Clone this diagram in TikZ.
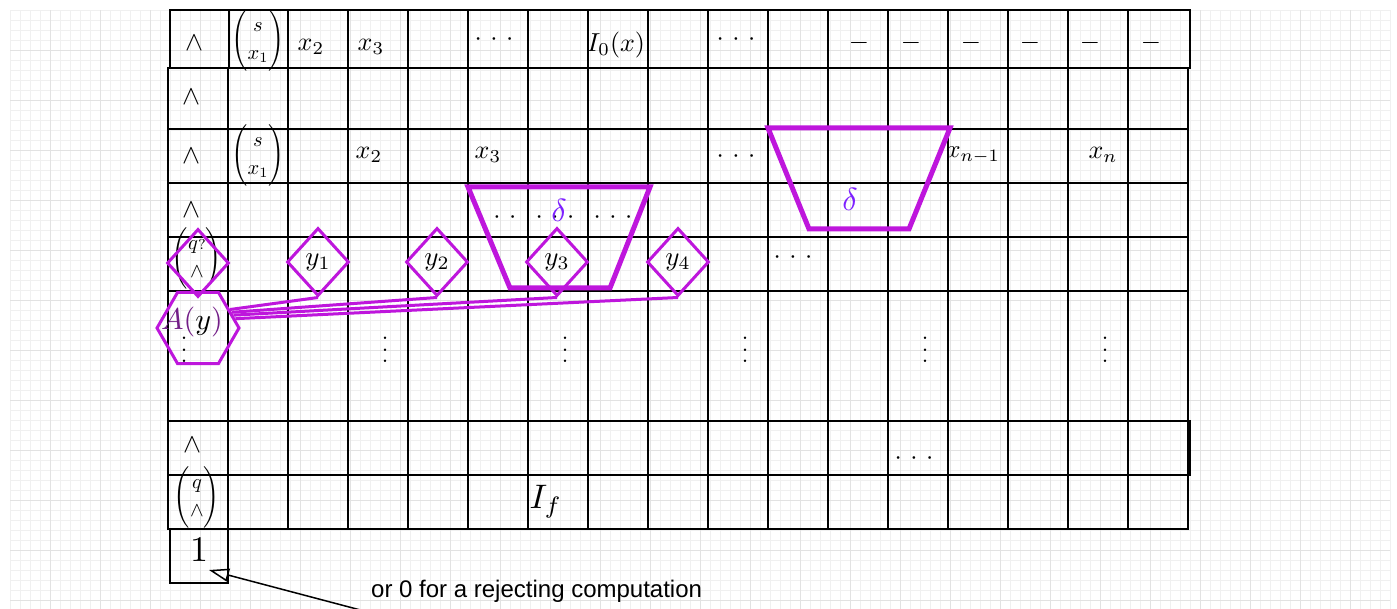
\documentclass[tikz,border=0pt]{standalone}
\usepackage{amsmath}
\usepackage{graphicx}
\usepackage{fontspec}
\newfontfamily\notefont{Liberation Sans}
\usetikzlibrary{shapes.geometric,arrows.meta,calc}
\definecolor{pur}{RGB}{190,22,220}
\definecolor{vio}{RGB}{125,32,255}
\definecolor{dpur}{RGB}{115,30,135}
\definecolor{bgminor}{RGB}{240,240,240}
\definecolor{bgmajor}{RGB}{226,226,226}
\newcommand\myvdots{\vbox{\baselineskip=11.5pt\lineskiplimit=0pt\hbox{.}\hbox{.}\hbox{.}}}
\newcommand\mycdots{\scalebox{2.6}{$\cdotp\mkern3mu\cdotp\mkern3mu\cdotp$}}
\newcommand\cbig[1]{\scalebox{2.6}{$#1$}}
\newcommand\wbig{\scalebox{2.7}{$\wedge$}}
\newcommand\mbig[1]{\scalebox{2.05}{$\begin{pmatrix}#1\end{pmatrix}$}}
\begin{document}
\begin{tikzpicture}[x=1pt,y=-1pt,
  gline/.style={line width=1.8pt, black},
  thkline/.style={line width=2.8pt, black},
  cellm/.style={inner sep=0pt, font=\fontsize{10}{12}\selectfont},
  matx/.style={inner sep=0pt, font=\fontsize{10}{13.5}\selectfont},
  diam/.style={diamond, draw=pur, line width=3pt, minimum width=62pt, minimum height=68pt, inner sep=0pt},
  trapz/.style={draw=pur, line width=5pt, line join=miter},
  linkl/.style={draw=pur, line width=3pt},
  deltal/.style={inner sep=0pt, text=vio},
  vdotsn/.style={inner sep=0pt, font=\fontsize{30}{30}\selectfont},
]
\useasboundingbox (0,0) rectangle (1397,609);
\fill[white] (0,0) rectangle (1397,609);
\draw[bgminor, line width=0.5pt] (10,10) grid[step=10pt] (1390,609);
\draw[bgmajor, line width=0.6pt] (10,10) grid[step=50pt] (1390,609);

% top row
\draw[gline] (170,10) rectangle (1190,68);
\foreach \x in {229,288,348,408,468,528,588,648,708,768,828,888,948,1008,1068,1128}
  \draw[gline] (\x,10) -- (\x,68);
% main block
\draw[gline] (168,68) rectangle (1188,529);
\foreach \y in {129,183,237,291,421,475}
  \draw[gline] (168,\y) -- (1188,\y);
\draw[gline] (1188,421) -- (1190,421) -- (1190,475) -- (1188,475);
\foreach \x in {228,288,348,408,468,528,588,648,708,768,888,948,1068,1128}
  \draw[gline] (\x,68) -- (\x,529);
\draw[thkline] (168,68) -- (168,529);
\draw[thkline] (828,68) -- (828,529);
\draw[thkline] (1008,68) -- (1008,529);
\draw[thkline] (168,68) -- (1190,68);
% answer box
\draw[gline] (170,529) rectangle (228,583);

% row 0
\node[cellm] (w0) at (194,43) {\wbig};
\node[matx] (m0) at (258,40) {\mbig{s\\ x_1}};
\node[cellm] (r0x2) at (311,47) {\cbig{x_2}};
\node[cellm] (r0x3) at (371,47) {\cbig{x_3}};
\node[cellm] (r0c1) at (494,40) {\mycdots};
\node[cellm] (r0i) at (616,45) {\cbig{I_0(x)}};
\node[cellm] (r0c2) at (736,40) {\mycdots};
\foreach \x/\n in {859/a,911/b,971/c,1030/d,1090/e,1151/f}
  \node[cellm] (dash\n) at (\x,43) {\cbig{-}};

% row 1
\node[cellm] (w1) at (191,97) {\wbig};
% row 2
\node[cellm] (w2) at (191,156) {\wbig};
\node[matx] (m2) at (258,155) {\mbig{s\\ x_1}};
\node[cellm] (r2x2) at (369,155) {\cbig{x_2}};
\node[cellm] (r2x3) at (488,155) {\cbig{x_3}};
\node[cellm] (r2c) at (736,157) {\mycdots};
\node[cellm] (r2xn1) at (973,155) {\scalebox{2.5}{$x_{n-1}$}};
\node[cellm] (r2xn) at (1103,155) {\cbig{x_n}};
% row 3
\node[cellm] (w3) at (191,210) {\wbig};
\node[cellm] (r3c1) at (497,218) {\mycdots};
\node[cellm] (r3c2) at (555,218) {\mycdots};
\node[cellm] (r3c3) at (613,218) {\mycdots};

% transition boxes
\draw[trapz] (468,187) -- (650,187) -- (610,288) -- (510,288) -- cycle;
\draw[trapz] (768,128) -- (950,128) -- (909,229) -- (809,229) -- cycle;
\node[deltal] (delta1) at (559,210) {\scalebox{3.2}{$\delta$}};
\node[deltal] (delta2) at (850,199) {\scalebox{3.2}{$\delta$}};

% row 4
\node[matx] (m4) at (197,258) {\mbig{q{\scriptstyle ?}\\ \wedge}};
\node[diam] (d0) at (198,263) {};
\node[diam] (d1) at (318,262) {\scalebox{2.7}{$y_1$}};
\node[diam] (d2) at (437,262) {\scalebox{2.7}{$y_2$}};
\node[diam] (d3) at (557,262) {\scalebox{2.7}{$y_3$}};
\node[diam] (d4) at (678,262) {\scalebox{2.7}{$y_4$}};
\node[cellm] (r4c) at (793,258) {\mycdots};

% A(y)
\node[regular polygon, regular polygon sides=6, minimum size=82pt, inner sep=0pt, draw=pur, line width=3pt] (hex) at (198,328) {};
\node[inner sep=0pt] (alab) at (192,322) {\scalebox{3}{$\textcolor{dpur}{A(}y\textcolor{dpur}{)}$}};
\draw[linkl] (hex.30) -- (d1.south);
\draw[linkl] (hex.25) -- (d2.south);
\draw[linkl] (hex.20) -- (d3.south);
\draw[linkl] (hex.14) -- (d4.south);

% row 5
\foreach \x/\n in {184/a,385/b,565/c,745/d,925/e,1105/f}
  \node[vdotsn] (vd\n) at (\x,350) {\myvdots};
% row 6
\node[cellm] (w6) at (192,445) {\wbig};
\node[cellm] (r6c) at (914,459) {\mycdots};
% row 7
\node[matx] (m7) at (197,497) {\mbig{q\\ \wedge}};
\node[inner sep=0pt] (ifin) at (546,502) {\scalebox{3.4}{$I_f$}};
% row 8
\node[inner sep=0pt] (one) at (199,550) {\scalebox{3.6}{$1$}};

% note and arrow
\coordinate (astart) at (368,612);
\coordinate (atip) at (209,570);
\draw[line width=1.5pt, -{Triangle[open,length=20pt,width=13pt]}] (astart) -- (atip);
\node[anchor=base west, inner sep=0pt, font=\notefont\fontsize{24}{28}\selectfont] (note) at (371,597) {or 0 for a rejecting computation};
\end{tikzpicture}
\end{document}
